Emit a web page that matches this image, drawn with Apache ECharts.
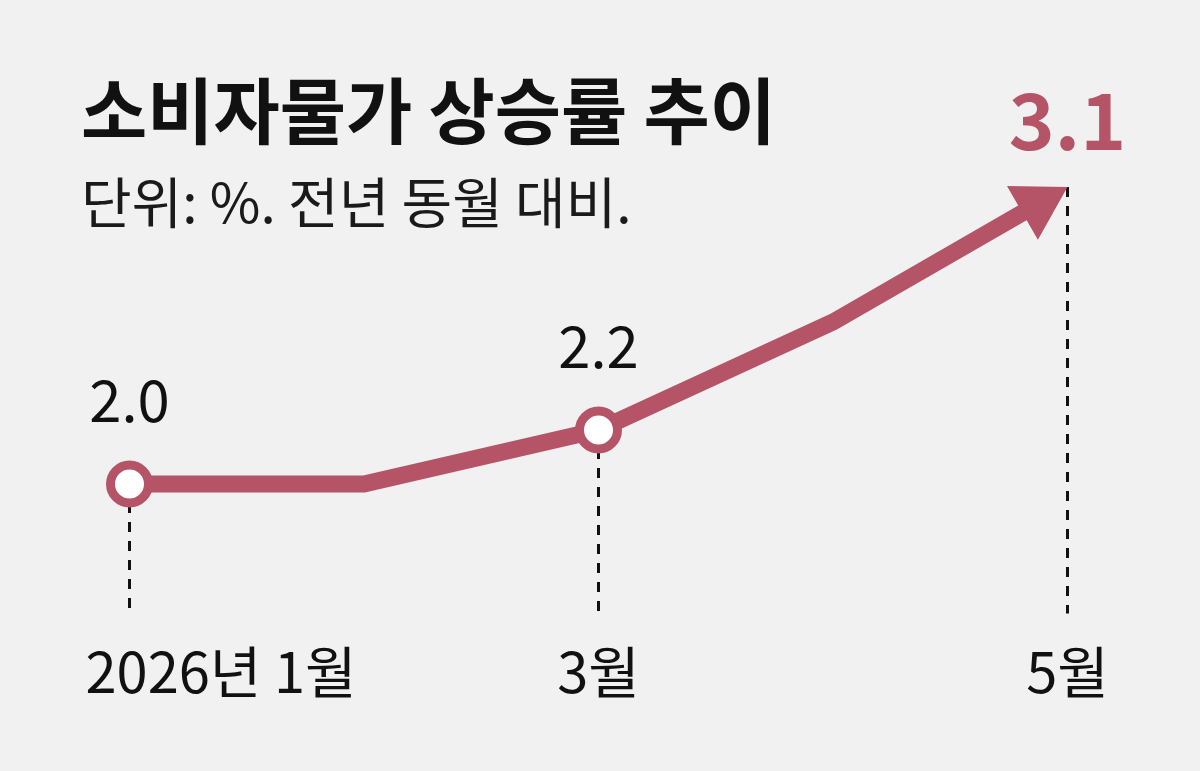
<!DOCTYPE html>
<html>
<head>
<meta charset="utf-8">
<script src="https://cdn.jsdelivr.net/npm/echarts@6/dist/echarts.min.js"></script>
<style>
  html, body { margin: 0; padding: 0; background: #f1f1f1; }
  #chart { width: 1200px; height: 771px; }
</style>
</head>
<body>
<div id="chart"></div>
<script>
// 소비자물가 상승률 (전년 동월 대비, %)
var months = ['2026년 1월', '2월', '3월', '4월', '5월'];
var tickLabels = ['2026년 1월', '', '3월', '', '5월'];
var cpi = [2.0, 2.0, 2.2, 2.6, 3.1];
var ringMonths = [0, 2];      // 동그라미 표시하는 달
var dropMonths = [0, 2, 4];   // 점선 내리는 달

var RED = '#b45466';
var FONT = 'Noto Sans CJK KR';

var myChart = echarts.init(document.getElementById('chart'));

// 꺾은선 + 끝 화살표
function renderLine(params, api) {
  if (params.dataIndex !== 0) return null;
  var pts = cpi.map(function (v, i) { return api.coord([i, v]); });
  var tip = pts[pts.length - 1];
  var prev = pts[pts.length - 2];
  var dx = tip[0] - prev[0], dy = tip[1] - prev[1];
  var len = Math.sqrt(dx * dx + dy * dy);
  var ux = dx / len, uy = dy / len;
  var headLen = 52, headHalf = 31;
  var bx = tip[0] - ux * headLen, by = tip[1] - uy * headLen;
  var linePts = pts.slice(0, -1).concat([[tip[0] - ux * 30, tip[1] - uy * 30]]);
  return {
    type: 'group',
    children: [
      {
        type: 'polyline',
        shape: { points: linePts },
        style: { stroke: RED, lineWidth: 17, fill: null, lineJoin: 'miter' }
      },
      {
        type: 'polygon',
        shape: { points: [tip, [bx - uy * headHalf, by + ux * headHalf], [bx + uy * headHalf, by - ux * headHalf]] },
        style: { fill: RED }
      }
    ]
  };
}

var option = {
  backgroundColor: '#f1f1f1',
  animation: false,
  title: {
    text: '소비자물가 상승률 추이',
    subtext: '단위: %. 전년 동월 대비.',
    left: 76,
    top: 70,
    itemGap: 28,
    textStyle: { fontFamily: FONT, fontSize: 72, fontWeight: 'bold', color: '#111' },
    subtextStyle: { fontFamily: FONT, fontSize: 55, color: '#1a1a1a' }
  },
  grid: { left: 129.5, right: 132.5, top: 79, bottom: 152 },
  xAxis: {
    type: 'category',
    boundaryGap: false,
    data: months.map(function (m, i) {
      return i === 0 ? { value: m, textStyle: { align: 'left', padding: [0, 0, 0, -44] } } : m;
    }),
    axisLine: { show: false },
    axisTick: { show: false },
    axisLabel: {
      interval: 0,
      margin: 25,
      fontFamily: FONT,
      fontSize: 56,
      color: '#111',
      formatter: function (v, i) { return tickLabels[i]; }
    }
  },
  yAxis: {
    type: 'value',
    min: 1.5,
    max: 3.5,
    show: false,
    splitLine: { show: false }
  },
  series: [
    {
      type: 'custom',
      z: 2,
      renderItem: renderLine,
      data: cpi.map(function (v, i) { return [i, v]; }),
      markLine: {
        z: 1,
        silent: true,
        symbol: ['none', 'none'],
        label: { show: false },
        lineStyle: { color: '#111', width: 3, opacity: 1, type: [10, 9] },
        data: dropMonths.map(function (i) {
          return [{ coord: [i, cpi[i]] }, { coord: [i, 1.52] }];
        })
      }
    },
    {
      type: 'scatter',
      z: 3,
      itemStyle: { opacity: 1 },
      data: cpi.map(function (v, i) {
        var ring = ringMonths.indexOf(i) >= 0;
        var last = i === cpi.length - 1;
        return {
          value: [i, v],
          symbol: 'circle',
          symbolSize: ring ? 38 : 2,
          itemStyle: ring
            ? { color: '#fff', borderColor: RED, borderWidth: 9, opacity: 1 }
            : { color: 'rgba(0,0,0,0)', opacity: 1 },
          label: last
            ? { show: true, position: 'top', distance: 27, fontFamily: FONT, fontSize: 78, fontWeight: 'bold', color: RED }
            : { show: ring, position: 'top', distance: 32, fontFamily: FONT, fontSize: 58, color: '#111' }
        };
      }),
      label: {
        formatter: function (p) { return p.value[1].toFixed(1); }
      }
    }
  ]
};

myChart.setOption(option);
</script>
</body>
</html>
